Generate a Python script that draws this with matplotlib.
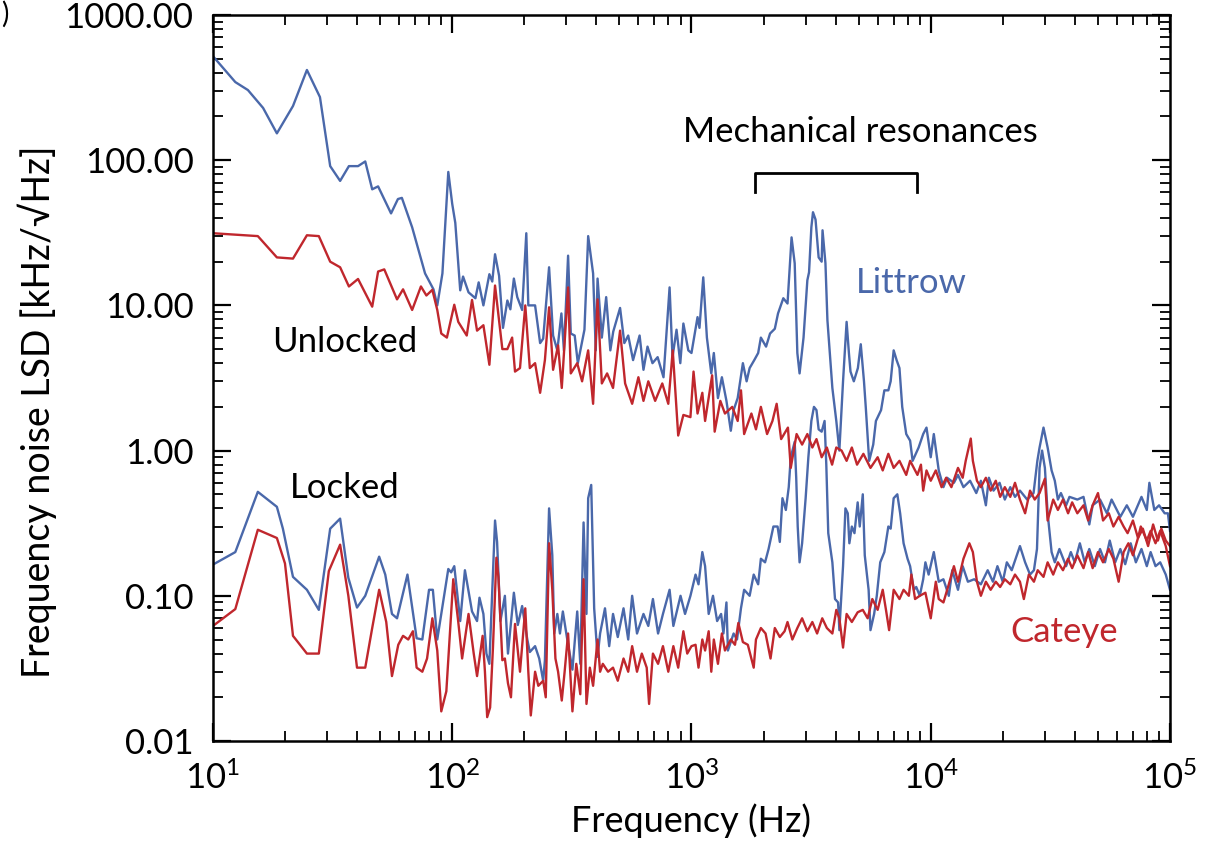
import matplotlib.pyplot as plt
import numpy as np
from matplotlib.ticker import FuncFormatter, LogLocator

# Frequency noise spectra: (frequency [Hz], LSD [kHz/sqrt(Hz)])
littrow_unlocked = [
    (10, 520), (12.4, 345), (14, 304), (16.2, 229), (18.5, 153), (21.6, 236), (24.7, 418),
    (28, 272), (30.9, 91), (34, 72), (37, 91), (40.4, 91), (43.3, 98), (46.3, 63), (49, 66),
    (55.5, 43), (59.3, 54), (61.6, 55), (68, 34.5), (77, 16.6), (83.5, 12.9), (86.6, 10),
    (91, 16.6), (96.3, 83), (100, 50), (103, 37), (108, 12.7), (111, 15.8), (117, 12.3),
    (125, 11.2), (129, 14.4), (135, 10), (143, 16.4), (147, 14.6), (151, 22.5), (157, 16),
    (163, 7.0), (170, 10.8), (175, 9.4), (181, 15.3), (187, 11.4), (196, 9.3), (204, 31.4),
    (208, 10), (222, 10), (233, 5.5), (240, 5.9), (254, 18.3), (264, 6.2), (275, 4.9),
    (286, 8.8), (293, 4.9), (305, 22), (313, 6.4), (325, 6.2), (335, 4.0), (357, 6.8),
    (370, 30), (388, 16.6), (398, 4.9), (405, 15.3), (422, 6), (440, 11.4), (458, 4.9),
    (471, 6.6), (503, 9.6), (524, 5.5), (544, 6.2), (570, 4.2), (607, 6.2), (630, 3.6),
    (655, 5.2), (687, 4.0), (722, 4.4), (764, 3.2), (810, 13.3), (833, 4.4), (866, 6.8),
    (898, 4.0), (925, 7.5), (970, 4.9), (1000, 4.7), (1060, 8.3), (1080, 7.0), (1120, 15.6),
    (1160, 6.0), (1210, 3.4), (1240, 4.7), (1290, 2.3), (1340, 3.2), (1400, 2.2), (1460, 1.37),
    (1500, 1.9), (1560, 2.3), (1640, 4.0), (1700, 3.0), (1750, 3.7), (1830, 4.2), (1900, 4.7),
    (1950, 6.0), (2050, 5.2), (2130, 6.4), (2230, 6.9), (2300, 8.8), (2420, 11.2), (2520, 10.3),
    (2620, 29.4), (2700, 19.5), (2770, 4.7), (2830, 3.4), (2940, 6.0), (3050, 14.9), (3100, 16.9),
    (3170, 34.5), (3220, 43.8), (3300, 39), (3400, 21.4), (3500, 20), (3530, 32.9), (3630, 19.5),
    (3700, 7.9), (3880, 2.7), (4030, 1.6), (4150, 1.0), (4300, 3.0), (4450, 7.7), (4550, 4.7),
    (4620, 3.5), (4770, 3.0), (4960, 3.7), (5100, 5.4), (5260, 3.0), (5350, 2.0), (5530, 0.85),
    (5750, 1.1), (5900, 1.6), (6200, 1.9), (6400, 2.6), (6650, 2.6), (6800, 3.0), (7000, 4.9),
    (7200, 4.2), (7400, 3.7), (7600, 2.0), (7900, 1.3), (8200, 1.17), (8400, 0.85), (8900, 1.05),
    (9300, 1.3), (9600, 1.44), (10000, 0.9), (10300, 1.3), (10800, 0.73), (11300, 0.56),
    (11700, 0.65), (12500, 0.6), (13000, 0.68), (13700, 0.56), (14600, 0.62), (15500, 0.51),
    (16200, 0.62), (17000, 0.42), (17500, 0.65), (18300, 0.53), (19400, 0.6), (20400, 0.46),
    (21500, 0.56), (22500, 0.48), (23600, 0.53), (25300, 0.46), (26900, 0.51), (27900, 0.85),
    (28500, 1.05), (29600, 1.44), (30800, 1.05), (32000, 0.73), (33000, 0.62), (34000, 0.46),
    (35000, 0.51), (36800, 0.42), (38000, 0.48), (41000, 0.46), (43500, 0.48), (46000, 0.31),
    (47500, 0.42), (51000, 0.46), (54500, 0.37), (57000, 0.46), (62000, 0.35), (66000, 0.42),
    (70000, 0.35), (76000, 0.48), (80000, 0.39), (82000, 0.6), (86000, 0.39), (90000, 0.42),
    (95000, 0.37), (98000, 0.37), (100000, 0.28),
]

cateye_unlocked = [
    (10, 31.4), (15.4, 30), (18.5, 21.4), (21.6, 21), (24.7, 30.4), (27.7, 30), (30.9, 20),
    (34, 18.3), (37, 13.5), (40.4, 15.2), (46.3, 9.8), (49, 17.1), (52, 17.7), (58.8, 11),
    (62.3, 12.9), (68, 9.3), (74, 13.5), (78, 11.7), (82.6, 12.8), (86.6, 9.3), (90, 6.4),
    (95, 6.0), (102, 10.1), (106, 7.7), (115, 6.2), (121, 10.9), (127, 6.7), (135, 7.3),
    (143, 3.9), (151, 13.7), (162, 5.0), (170, 5.0), (178, 6.0), (183, 3.5), (192, 3.7),
    (202, 10), (211, 3.7), (222, 4.0), (233, 2.5), (244, 4.2), (254, 9.7), (264, 3.6),
    (277, 5.3), (287, 2.7), (305, 13.3), (313, 3.4), (333, 4.0), (349, 3.0), (370, 4.9),
    (388, 2.1), (405, 11), (422, 2.9), (444, 3.4), (470, 2.7), (503, 6.7), (528, 2.9),
    (565, 2.1), (600, 3.2), (630, 2.2), (660, 3.0), (705, 2.2), (755, 2.9), (800, 2.1),
    (835, 4.9), (880, 1.27), (925, 1.76), (990, 1.7), (1020, 3.5), (1060, 1.8), (1110, 2.5),
    (1140, 1.6), (1220, 3.3), (1250, 1.35), (1320, 2.2), (1380, 1.8), (1480, 2.0), (1560, 1.6),
    (1610, 2.6), (1660, 1.3), (1780, 1.8), (1860, 1.4), (1950, 2.0), (2070, 1.3), (2180, 1.6),
    (2270, 2.1), (2370, 1.2), (2530, 1.44), (2600, 0.76), (2750, 1.3), (2900, 1.1), (3050, 1.3),
    (3200, 1.05), (3330, 1.2), (3500, 0.9), (3680, 1.05), (3870, 0.8), (4030, 1.05), (4240, 1.0),
    (4450, 0.85), (4680, 1.05), (4920, 0.8), (5230, 0.95), (5600, 0.76), (6000, 0.9),
    (6300, 0.73), (6650, 0.95), (7000, 0.76), (7400, 0.85), (7900, 0.68), (8200, 0.85),
    (8800, 0.68), (9100, 0.8), (9300, 0.53), (9600, 0.73), (10000, 0.62), (10500, 0.73),
    (11100, 0.56), (11600, 0.65), (12200, 0.56), (13000, 0.76), (13600, 0.65), (14000, 0.85),
    (14700, 1.21), (15000, 0.85), (15600, 0.62), (16200, 0.56), (17000, 0.65), (17800, 0.53),
    (18700, 0.62), (19500, 0.48), (20400, 0.56), (21500, 0.48), (22500, 0.6), (23600, 0.46),
    (24800, 0.37), (26000, 0.53), (27200, 0.46), (28500, 0.51), (30000, 0.64), (30800, 0.33),
    (32500, 0.46), (34000, 0.39), (35700, 0.46), (37500, 0.37), (39000, 0.44), (41000, 0.37),
    (43500, 0.42), (45500, 0.33), (47500, 0.42), (50000, 0.51), (52500, 0.33), (55500, 0.37),
    (58000, 0.3), (61000, 0.35), (64000, 0.3), (66500, 0.27), (70000, 0.33), (73500, 0.25),
    (75500, 0.3), (80000, 0.24), (83000, 0.28), (87000, 0.23), (91000, 0.28), (96000, 0.22),
    (100000, 0.16),
]

littrow_locked = [
    (10, 0.164), (12.4, 0.2), (15.4, 0.52), (18.5, 0.41), (19.6, 0.29), (21.6, 0.135),
    (24.7, 0.11), (27.7, 0.08), (30.9, 0.29), (34, 0.34), (36.8, 0.133), (40, 0.083),
    (43.3, 0.1), (49.5, 0.186), (52.5, 0.14), (56, 0.075), (58.8, 0.07), (65, 0.14),
    (71, 0.051), (75, 0.05), (80, 0.11), (83, 0.11), (86.6, 0.05), (96.3, 0.153), (99, 0.145),
    (102, 0.16), (108, 0.067), (113, 0.15), (121, 0.078), (127, 0.067), (130, 0.097),
    (135, 0.075), (139, 0.04), (143, 0.034), (151, 0.33), (154, 0.235), (159, 0.067),
    (166, 0.1), (171, 0.04), (181, 0.105), (188, 0.063), (196, 0.085), (206, 0.05),
    (211, 0.041), (222, 0.045), (231, 0.037), (240, 0.026), (244, 0.036), (254, 0.4),
    (262, 0.19), (267, 0.055), (275, 0.075), (282, 0.055), (290, 0.078), (302, 0.051),
    (318, 0.031), (333, 0.078), (343, 0.034), (354, 0.32), (364, 0.075), (370, 0.47),
    (381, 0.58), (392, 0.082), (405, 0.038), (415, 0.055), (435, 0.082), (453, 0.045),
    (470, 0.075), (492, 0.052), (520, 0.082), (544, 0.05), (565, 0.1), (592, 0.055),
    (630, 0.075), (660, 0.062), (690, 0.095), (725, 0.055), (760, 0.075), (810, 0.11),
    (840, 0.062), (900, 0.1), (940, 0.075), (990, 0.1), (1040, 0.14), (1070, 0.12),
    (1110, 0.2), (1140, 0.16), (1180, 0.075), (1230, 0.1), (1280, 0.067), (1330, 0.075),
    (1360, 0.055), (1400, 0.09), (1420, 0.042), (1500, 0.055), (1550, 0.05), (1610, 0.082),
    (1660, 0.11), (1750, 0.1), (1820, 0.14), (1900, 0.12), (1950, 0.18), (2030, 0.17),
    (2100, 0.21), (2200, 0.3), (2290, 0.3), (2340, 0.235), (2400, 0.47), (2480, 0.39),
    (2550, 0.56), (2600, 0.9), (2700, 1.15), (2740, 0.65), (2780, 0.3), (2830, 0.17),
    (2900, 0.23), (3000, 0.47), (3080, 0.9), (3170, 1.6), (3250, 2.0), (3330, 1.9),
    (3400, 1.4), (3500, 1.35), (3600, 1.6), (3660, 0.8), (3730, 0.27), (3880, 0.17),
    (3980, 0.095), (4100, 0.09), (4150, 0.058), (4300, 0.16), (4400, 0.4), (4500, 0.37),
    (4570, 0.23), (4680, 0.3), (4800, 0.27), (4950, 0.44), (5050, 0.3), (5200, 0.5),
    (5300, 0.19), (5500, 0.11), (5600, 0.058), (5800, 0.075), (5950, 0.1), (6150, 0.17),
    (6400, 0.2), (6650, 0.3), (6800, 0.29), (7000, 0.47), (7250, 0.5), (7450, 0.37),
    (7700, 0.23), (8000, 0.18), (8200, 0.16), (8500, 0.11), (8700, 0.115), (9000, 0.1),
    (9300, 0.13), (9500, 0.17), (9800, 0.14), (10300, 0.2), (10800, 0.125), (11300, 0.13),
    (11900, 0.1), (12300, 0.15), (13000, 0.11), (13600, 0.16), (14300, 0.125), (15200, 0.13),
    (16200, 0.12), (17300, 0.15), (18200, 0.125), (19000, 0.16), (20000, 0.125), (20800, 0.17),
    (21800, 0.15), (23600, 0.22), (24800, 0.17), (26000, 0.14), (27000, 0.15), (27800, 0.21),
    (28500, 0.76), (29200, 1.0), (30000, 0.76), (30800, 0.37), (32000, 0.2), (33000, 0.17),
    (34500, 0.21), (36800, 0.16), (38500, 0.2), (40000, 0.17), (42000, 0.23), (44000, 0.17),
    (46000, 0.21), (48500, 0.16), (51000, 0.21), (53500, 0.17), (56000, 0.24), (59000, 0.17),
    (62000, 0.21), (65000, 0.165), (68500, 0.23), (72000, 0.17), (76000, 0.21), (80000, 0.16),
    (83000, 0.2), (87000, 0.16), (91000, 0.17), (96000, 0.14), (100000, 0.11),
]

cateye_locked = [
    (10, 0.062), (12.4, 0.081), (15.4, 0.285), (18.5, 0.25), (20, 0.167), (21.6, 0.053),
    (24.7, 0.04), (27.7, 0.04), (30.5, 0.148), (34, 0.225), (36.8, 0.1), (40, 0.032),
    (43.3, 0.032), (46.3, 0.06), (49.5, 0.11), (53, 0.066), (56, 0.028), (59.5, 0.046),
    (62.3, 0.053), (65.5, 0.05), (68.5, 0.057), (71, 0.032), (75, 0.03), (78.5, 0.037),
    (82.6, 0.07), (86.6, 0.042), (90, 0.016), (94.5, 0.022), (101, 0.13), (106, 0.066),
    (110, 0.037), (117, 0.075), (123, 0.04), (127, 0.028), (134, 0.053), (137, 0.03),
    (140, 0.0146), (144, 0.017), (148, 0.044), (153, 0.183), (156, 0.135), (162, 0.036),
    (166, 0.037), (171, 0.025), (176, 0.02), (183, 0.064), (192, 0.03), (202, 0.082),
    (208, 0.03), (213, 0.015), (222, 0.03), (229, 0.024), (240, 0.026), (246, 0.02),
    (254, 0.23), (262, 0.11), (270, 0.037), (277, 0.03), (287, 0.019), (295, 0.03),
    (305, 0.055), (318, 0.016), (330, 0.034), (343, 0.021), (354, 0.13), (364, 0.018),
    (376, 0.032), (388, 0.024), (405, 0.05), (415, 0.03), (426, 0.034), (448, 0.03),
    (470, 0.032), (492, 0.026), (520, 0.037), (544, 0.03), (565, 0.045), (592, 0.03),
    (620, 0.04), (650, 0.032), (665, 0.018), (690, 0.04), (725, 0.034), (760, 0.045),
    (800, 0.03), (840, 0.045), (880, 0.032), (925, 0.057), (960, 0.04), (1000, 0.045),
    (1040, 0.046), (1070, 0.032), (1110, 0.05), (1140, 0.042), (1180, 0.057), (1210, 0.03),
    (1240, 0.05), (1290, 0.034), (1340, 0.055), (1380, 0.042), (1460, 0.05), (1520, 0.046),
    (1570, 0.065), (1640, 0.048), (1720, 0.046), (1820, 0.032), (1860, 0.05), (1950, 0.06),
    (2040, 0.055), (2140, 0.037), (2230, 0.06), (2340, 0.052), (2450, 0.057), (2520, 0.066),
    (2640, 0.05), (2770, 0.06), (2900, 0.07), (3050, 0.057), (3200, 0.066), (3350, 0.055),
    (3520, 0.07), (3680, 0.06), (3880, 0.055), (4030, 0.08), (4150, 0.07), (4300, 0.044),
    (4450, 0.075), (4680, 0.066), (4950, 0.077), (5200, 0.08), (5450, 0.07), (5700, 0.095),
    (6000, 0.08), (6300, 0.11), (6500, 0.08), (6700, 0.058), (7000, 0.11), (7400, 0.095),
    (7700, 0.11), (8100, 0.1), (8300, 0.14), (8600, 0.095), (9000, 0.1), (9500, 0.105),
    (10000, 0.07), (10500, 0.125), (10800, 0.095), (11300, 0.09), (11900, 0.12), (12500, 0.16),
    (13000, 0.125), (13700, 0.18), (14500, 0.23), (15000, 0.2), (15600, 0.125), (16200, 0.1),
    (17000, 0.125), (17800, 0.11), (18700, 0.125), (19500, 0.115), (20400, 0.13), (21500, 0.12),
    (22500, 0.14), (23600, 0.125), (24500, 0.095), (25700, 0.14), (27000, 0.125), (28000, 0.15),
    (29600, 0.135), (30800, 0.17), (32500, 0.14), (34000, 0.17), (35700, 0.15), (37500, 0.18),
    (39000, 0.155), (41000, 0.19), (43500, 0.155), (45500, 0.2), (47500, 0.155), (50000, 0.2),
    (52500, 0.17), (55500, 0.21), (58000, 0.18), (61000, 0.125), (64000, 0.2), (67000, 0.23),
    (70000, 0.19), (73500, 0.25), (77000, 0.29), (81000, 0.22), (85000, 0.31), (89000, 0.24),
    (92000, 0.29), (96000, 0.24), (100000, 0.22),
]

yticks = [0.01, 0.1, 1, 10, 100, 1000]

BLUE = '#4a68aa'
RED = '#c0272d'
FONT = ['Lato', 'DejaVu Sans']

plt.rcParams['font.family'] = FONT
plt.rcParams['mathtext.fontset'] = 'custom'
plt.rcParams['mathtext.rm'] = 'Lato'

fig = plt.figure(figsize=(12.19, 8.41), dpi=100)
ax = fig.add_axes([0.1747, 0.1189, 0.7851, 0.8633])

for data, color in [(littrow_unlocked, BLUE), (littrow_locked, BLUE),
                    (cateye_unlocked, RED), (cateye_locked, RED)]:
    f, v = np.array(data).T
    ax.plot(f, v, color=color, lw=1.7)

ax.set_xscale('log')
ax.set_yscale('log')
ax.set_xlim(10, 1e5)
ax.set_ylim(0.01, 1000)

ax.set_yticks(yticks)
ax.yaxis.set_major_formatter(FuncFormatter(lambda y, _: '%.2f' % y))
ax.yaxis.set_minor_locator(LogLocator(base=10, subs=np.arange(2, 10), numticks=20))
ax.xaxis.set_minor_locator(LogLocator(base=10, subs=np.arange(2, 10), numticks=20))

ax.tick_params(which='both', direction='in', top=True, right=True, labelsize=25)
ax.tick_params(which='major', length=13, width=1.6)
ax.tick_params(which='minor', length=7, width=1.3)
ax.tick_params(axis='y', pad=14)
ax.tick_params(axis='x', pad=14)
for s in ax.spines.values():
    s.set_linewidth(1.8)

ax.set_xlabel('Frequency (Hz)', fontsize=26, labelpad=6)
ax.set_ylabel('Frequency noise LSD [kHz/\u221aHz]', fontsize=27)
ax.yaxis.set_label_coords(-0.163, 0.453)

# annotations
ax.text(17.7, 5.6, 'Unlocked', fontsize=25, va='center', ha='left')
ax.text(21, 0.556, 'Locked', fontsize=25, va='center', ha='left')
ax.text(4850, 14.2, 'Littrow', fontsize=25, va='center', ha='left', color=BLUE)
ax.text(21600, 0.056, 'Cateye', fontsize=25, va='center', ha='left', color=RED)
ax.text(5100, 156, 'Mechanical resonances', fontsize=25, va='center', ha='center')
ax.plot([1850, 1850, 8730, 8730], [60, 81, 81, 60], color='black', lw=2)

fig.text(0.001, 0.999, ')', fontsize=20, va='top', ha='left')

fig.savefig('out.png', dpi=100)
